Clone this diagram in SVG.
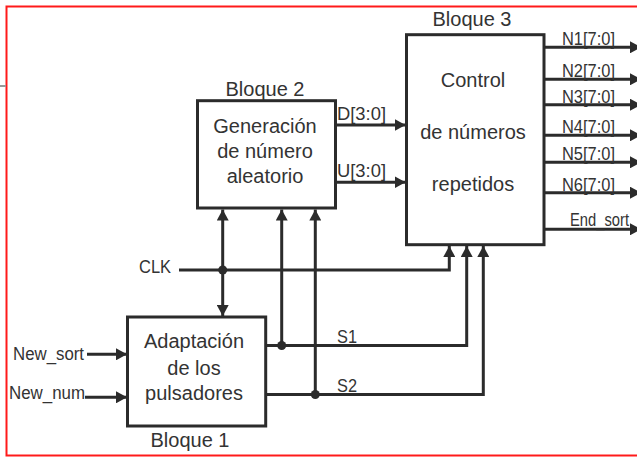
<svg xmlns="http://www.w3.org/2000/svg" width="637" height="457" viewBox="0 0 637 457">
<defs>
<style>
.box{fill:#fff;stroke:#2b2b2b;stroke-width:3}
.w{fill:none;stroke:#2b2b2b;stroke-width:3}
.t{font-family:"Liberation Sans",Arial,sans-serif;fill:#333}
.bt{font-size:20px;text-anchor:middle}
.lb{font-size:18px}
.nl{font-size:19px}
.dot{fill:#2b2b2b}
</style>
<marker id="ah" markerUnits="userSpaceOnUse" markerWidth="11" markerHeight="12" refX="11" refY="6" orient="auto">
<path d="M0,0 L11,6 L0,12 z" fill="#2b2b2b"/>
</marker>
</defs>
<rect x="0" y="0" width="637" height="457" fill="#fff"/>
<rect x="6.5" y="6.5" width="640" height="449" fill="none" stroke="#ff1a1a" stroke-width="2"/>
<line x1="0" y1="86" x2="6" y2="86" stroke="#999" stroke-width="2"/>

<g id="connectors">
<line class="w" x1="87" y1="354.3" x2="127" y2="354.3" marker-end="url(#ah)"/>
<line class="w" x1="85" y1="397.3" x2="127" y2="397.3" marker-end="url(#ah)"/>
<polyline class="w" points="179,270 449.3,270 449.3,246" marker-end="url(#ah)"/>
<line class="w" x1="222.7" y1="270" x2="222.7" y2="209.5" marker-end="url(#ah)"/>
<line class="w" x1="222.7" y1="270" x2="222.7" y2="316" marker-end="url(#ah)"/>
<circle class="dot" cx="222.7" cy="270" r="4.5"/>
<polyline class="w" points="266,345.5 466.7,345.5 466.7,246" marker-end="url(#ah)"/>
<line class="w" x1="281.7" y1="345.5" x2="281.7" y2="209.5" marker-end="url(#ah)"/>
<circle class="dot" cx="281.7" cy="345.5" r="4.5"/>
<polyline class="w" points="266,394.5 483.3,394.5 483.3,246" marker-end="url(#ah)"/>
<line class="w" x1="315.3" y1="394.5" x2="315.3" y2="209.5" marker-end="url(#ah)"/>
<circle class="dot" cx="315.3" cy="394.5" r="4.5"/>
<line class="w" x1="336" y1="125" x2="405.5" y2="125" marker-end="url(#ah)"/>
<line class="w" x1="336" y1="182.3" x2="405.5" y2="182.3" marker-end="url(#ah)"/>
<line class="w" x1="544" y1="47.3" x2="641" y2="47.3" marker-end="url(#ah)"/>
<line class="w" x1="544" y1="79.3" x2="641" y2="79.3" marker-end="url(#ah)"/>
<line class="w" x1="544" y1="104.7" x2="641" y2="104.7" marker-end="url(#ah)"/>
<line class="w" x1="544" y1="135.3" x2="641" y2="135.3" marker-end="url(#ah)"/>
<line class="w" x1="544" y1="162.3" x2="641" y2="162.3" marker-end="url(#ah)"/>
<line class="w" x1="544" y1="192.7" x2="641" y2="192.7" marker-end="url(#ah)"/>
<line class="w" x1="544" y1="229.3" x2="641" y2="229.3" marker-end="url(#ah)"/>
<g class="t lb">
<text x="13" y="360" textLength="71" lengthAdjust="spacingAndGlyphs">New_sort</text>
<text x="9" y="399" textLength="76" lengthAdjust="spacingAndGlyphs">New_num</text>
<text x="139" y="273" textLength="32" lengthAdjust="spacingAndGlyphs">CLK</text>
<text x="337" y="343.3" textLength="20" lengthAdjust="spacingAndGlyphs">S1</text>
<text x="337" y="391.7" textLength="20" lengthAdjust="spacingAndGlyphs">S2</text>
<text x="337" y="120" textLength="49" lengthAdjust="spacingAndGlyphs">D[3:0]</text>
<text x="337" y="176.5" textLength="49" lengthAdjust="spacingAndGlyphs">U[3:0]</text>
<g class="nl">
<text x="562" y="45" textLength="53" lengthAdjust="spacingAndGlyphs">N1[7:0]</text>
<text x="562" y="77" textLength="53" lengthAdjust="spacingAndGlyphs">N2[7:0]</text>
<text x="562" y="102.5" textLength="53" lengthAdjust="spacingAndGlyphs">N3[7:0]</text>
<text x="562" y="133" textLength="53" lengthAdjust="spacingAndGlyphs">N4[7:0]</text>
<text x="562" y="160" textLength="53" lengthAdjust="spacingAndGlyphs">N5[7:0]</text>
<text x="562" y="190.5" textLength="53" lengthAdjust="spacingAndGlyphs">N6[7:0]</text>
<text x="570" y="226" textLength="59" lengthAdjust="spacingAndGlyphs">End_sort</text>
</g>
</g>
</g>

<g id="bloque1">
<rect class="box" x="127.5" y="317" width="138.2" height="109"/>
<text class="t bt" x="194" y="348.3">Adaptación</text>
<text class="t bt" x="194" y="375">de los</text>
<text class="t bt" x="194" y="400">pulsadores</text>
<text class="t bt" x="190" y="447.3">Bloque 1</text>
</g>

<g id="bloque2">
<rect class="box" x="197.5" y="100.7" width="138" height="107.3"/>
<text class="t bt" x="265" y="133.3">Generación</text>
<text class="t bt" x="265" y="158">de número</text>
<text class="t bt" x="265" y="183">aleatorio</text>
<text class="t bt" x="265" y="96">Bloque 2</text>
</g>

<g id="bloque3">
<rect class="box" x="406.5" y="34.7" width="137.5" height="210"/>
<text class="t bt" x="473" y="87">Control</text>
<text class="t bt" x="473" y="139">de números</text>
<text class="t bt" x="473" y="191">repetidos</text>
<text class="t bt" x="472" y="26">Bloque 3</text>
</g>
</svg>
